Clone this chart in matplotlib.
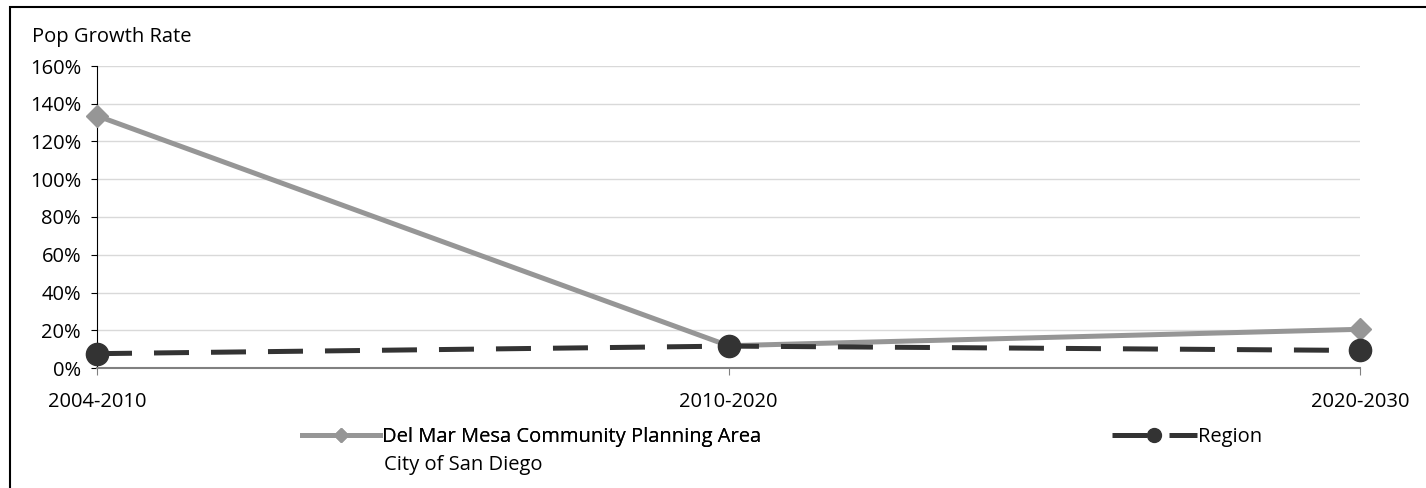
import numpy as np
import matplotlib.pyplot as plt
from matplotlib.ticker import PercentFormatter
from matplotlib.patches import Rectangle

periods = ["2004-2010", "2010-2020", "2020-2030"]
del_mar = [133.6, 11.8, 20.5]
region = [7.6, 11.6, 9.3]

plt.rcParams['font.family'] = ['Open Sans', 'DejaVu Sans']
fs = 14.5
W, H = 1426, 488

fig = plt.figure(figsize=(W / 100, H / 100), dpi=100)
ax = fig.add_axes([97 / W, 1 - 368 / H, (1360 - 97) / W, (368 - 66) / H])

x = np.arange(len(periods))
l1, = ax.plot(x, del_mar, color="#969696", lw=3.6, marker="D", ms=11,
              label="Del Mar Mesa Community Planning Area", clip_on=False, zorder=3)
l2, = ax.plot(x, region, color="#333333", lw=3.6, ls=(0, (7, 4.4)), marker="o", ms=16,
              label="Region", clip_on=False, zorder=4)

ax.set_xlim(0, 2)
ax.set_ylim(0, 160)
ax.set_yticks(np.arange(0, 161, 20))
ax.yaxis.set_major_formatter(PercentFormatter(decimals=0))
ax.set_xticks(x)
ax.set_xticklabels(periods)
ax.grid(axis="y", color="#d9d9d9", lw=1)
ax.set_axisbelow(True)
for s in ["top", "right"]:
    ax.spines[s].set_visible(False)
ax.spines["left"].set_color("black")
ax.spines["bottom"].set_color("#808080")
ax.spines["bottom"].set_linewidth(1.5)
ax.tick_params(axis="y", direction="out", length=4.5, labelsize=fs, pad=7)
ax.tick_params(axis="x", direction="out", length=5, labelsize=fs, pad=12, color="#808080")
fig.text(32 / W, 1 - 37 / H, "Pop Growth Rate", fontsize=fs, va="center")

# first legend entry, second line of its label added as plain text below
leg1 = fig.legend(handles=[l1], loc="center left", bbox_to_anchor=(302 / W, 1 - 437 / H),
                  frameon=False, fontsize=fs, handlelength=3.85, handletextpad=0.1,
                  borderaxespad=0, borderpad=0)
for h in leg1.legend_handles:
    h.set_markersize(7)
fig.add_artist(leg1)
fig.text(384 / W, 1 - 470 / H, "City of San Diego", fontsize=fs, va="baseline")

leg2 = fig.legend(handles=[l2], loc="center left", bbox_to_anchor=(1112 / W, 1 - 437 / H),
                  frameon=False, fontsize=fs, handlelength=4.2, handletextpad=0.05,
                  borderaxespad=0, borderpad=0)
for h in leg2.legend_handles:
    h.set_markersize(10)

fig.add_artist(Rectangle((10 / W, -0.1), 1.2, 1.1 - 7 / H,
                         transform=fig.transFigure, fill=False, ec="black", lw=1.5))

fig.savefig("out.png", dpi=100)
